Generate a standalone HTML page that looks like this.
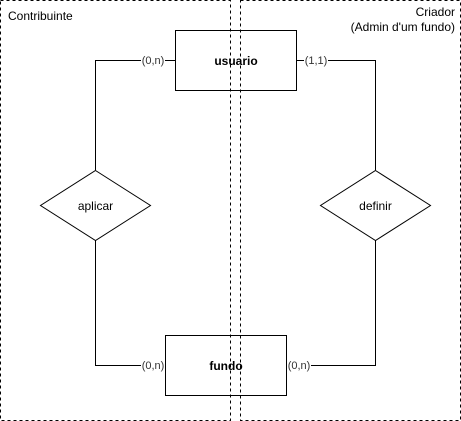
<!DOCTYPE html>
<html><head><style>body{margin:0;background:#fff}svg{display:block}</style></head><body>
<svg width="461" height="421" xmlns="http://www.w3.org/2000/svg" font-family="Liberation Sans, sans-serif">
<rect width="461" height="421" fill="#fff"/>
<g fill="none" stroke="#000" stroke-width="1">
<path d="M175.5 60.5H95.5V170"/>
<path d="M95.5 240V365.5H165"/>
<path d="M296 60.5H375.5V170"/>
<path d="M375.5 240V365.5H286"/>
</g>
<rect x="175.5" y="30.5" width="121" height="60" fill="#fff" stroke="#000"/>
<rect x="165.5" y="335.5" width="121" height="60" fill="#fff" stroke="#000"/>
<polygon points="95.5,170.5 150.5,205.5 95.5,240.5 40.5,205.5" fill="#fff" stroke="#000"/>
<polygon points="375.5,170.5 430.5,205.5 375.5,240.5 320.5,205.5" fill="#fff" stroke="#000"/>
<g font-size="11" fill="#333" text-anchor="middle">
<rect x="141" y="54" width="24" height="13" fill="#fff"/><text x="153" y="64">(0,n)</text>
<rect x="304" y="54" width="24" height="13" fill="#fff"/><text x="316" y="64">(1,1)</text>
<rect x="141" y="359" width="24" height="13" fill="#fff"/><text x="153" y="369">(0,n)</text>
<rect x="287" y="359" width="24" height="13" fill="#fff"/><text x="299" y="369">(0,n)</text>
</g>
<g font-size="12" fill="#000" text-anchor="middle">
<text x="236" y="65" font-weight="bold">usuario</text>
<text x="226" y="370" font-weight="bold">fundo</text>
<text x="95.5" y="210">aplicar</text>
<text x="375.5" y="210">definir</text>
</g>
<g fill="none" stroke="#000" stroke-dasharray="3,3">
<rect x="0.5" y="0.5" width="230" height="420"/>
<rect x="240.5" y="0.5" width="220" height="420"/>
</g>
<g font-size="12" fill="#000">
<text x="8" y="20">Contribuinte</text>
<text x="455" y="16" text-anchor="end">Criador</text>
<text x="455" y="31" text-anchor="end">(Admin d'um fundo)</text>
</g>
</svg>
</body></html>
